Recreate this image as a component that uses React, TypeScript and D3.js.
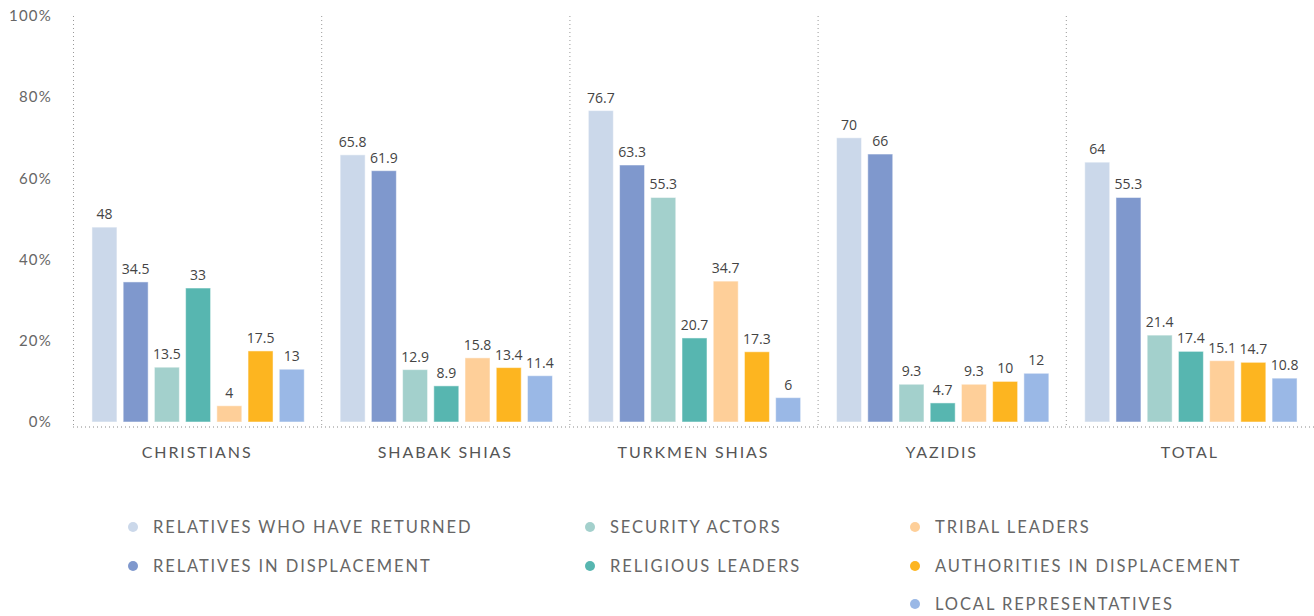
import React from "react";
import * as d3 from "d3";

const categories = ["CHRISTIANS", "SHABAK SHIAS", "TURKMEN SHIAS", "YAZIDIS", "TOTAL"];
const seriesNames = [
  "RELATIVES WHO HAVE RETURNED",
  "RELATIVES IN DISPLACEMENT",
  "SECURITY ACTORS",
  "RELIGIOUS LEADERS",
  "TRIBAL LEADERS",
  "AUTHORITIES IN DISPLACEMENT",
  "LOCAL REPRESENTATIVES",
];
const seriesColors = ["#cbd8ea", "#7f98cd", "#a3d0cc", "#57b6b0", "#fecf99", "#fdb520", "#9ab8e6"];
const christians = [48, 34.5, 13.5, 33, 4, 17.5, 13];
const shabak = [65.8, 61.9, 12.9, 8.9, 15.8, 13.4, 11.4];
const turkmen = [76.7, 63.3, 55.3, 20.7, 34.7, 17.3, 6];
const yazidis = [70, 66, 9.3, 4.7, 9.3, 10, 12];
const total = [64, 55.3, 21.4, 17.4, 15.1, 14.7, 10.8];
const values = [christians, shabak, turkmen, yazidis, total];
const yTicks = [0, 20, 40, 60, 80, 100];
// legend layout: column index per series, row index per series
const legendCol = [0, 0, 1, 1, 2, 2, 2];
const legendRow = [0, 1, 0, 1, 0, 1, 2];

export default function App() {
  const W = 1314, H = 616;
  const left = 73, right = 1314, top = 16, bottom = 422;
  const x0 = d3.scaleBand<string>().domain(categories).range([left, right]).paddingInner(0).paddingOuter(0);
  const x1 = d3.scaleBand<string>().domain(seriesNames).range([1, x0.bandwidth() + 1]).paddingInner(0.2).paddingOuter(0.575);
  const y = d3.scaleLinear().domain([0, 100]).range([bottom, top]);
  const labelFont = "'Lato', 'Open Sans', sans-serif";
  const legendX = [133, 590, 915];
  const legendY = [527, 566, 604];
  return (
    <svg width={W} height={H} style={{ position: "absolute", left: 0, top: 0, background: "#fff" }}>
      {categories.map((c) => (
        <line key={"sep" + c} x1={x0(c)! + 0.5} x2={x0(c)! + 0.5} y1={top} y2={bottom + 4}
          stroke="#999" strokeWidth={1} strokeDasharray="1,3" />
      ))}
      <line x1={left} x2={right} y1={bottom + 5} y2={bottom + 5} stroke="#888" strokeWidth={1} strokeDasharray="1,3" />
      {yTicks.map((t) => (
        <text key={"yt" + t} x={52} y={y(t)} dy="0.35em" textAnchor="end" fontSize={15}
          fontFamily={labelFont} fill="#666" letterSpacing={1.2}>{t}%</text>
      ))}
      {categories.map((c, ci) => (
        <g key={c} transform={`translate(${x0(c)},0)`}>
          {values[ci].map((v, si) => (
            <g key={si}>
              <rect x={x1(seriesNames[si])} y={y(v)} width={x1.bandwidth()} height={bottom - y(v)}
                fill={seriesColors[si]} stroke="#fff" strokeOpacity={0.5} strokeWidth={1} />
              <text x={x1(seriesNames[si])! + x1.bandwidth() / 2} y={y(v) - 8} textAnchor="middle"
                fontSize={14} fontFamily="'Open Sans', sans-serif" fill="#444">{v}</text>
            </g>
          ))}
          <text x={x0.bandwidth() / 2} y={458} textAnchor="middle" fontSize={16}
            fontFamily={labelFont} fill="#555" letterSpacing={1.9}>{c}</text>
        </g>
      ))}
      {seriesNames.map((s, si) => (
        <g key={"lg" + s} transform={`translate(${legendX[legendCol[si]]},${legendY[legendRow[si]]})`}>
          <circle cx={0} cy={0} r={5} fill={seriesColors[si]} />
          <text x={20} y={0} dy="0.35em" fontSize={16.5} fontFamily={labelFont} fill="#666" letterSpacing={1.9}>{s}</text>
        </g>
      ))}
    </svg>
  );
}
